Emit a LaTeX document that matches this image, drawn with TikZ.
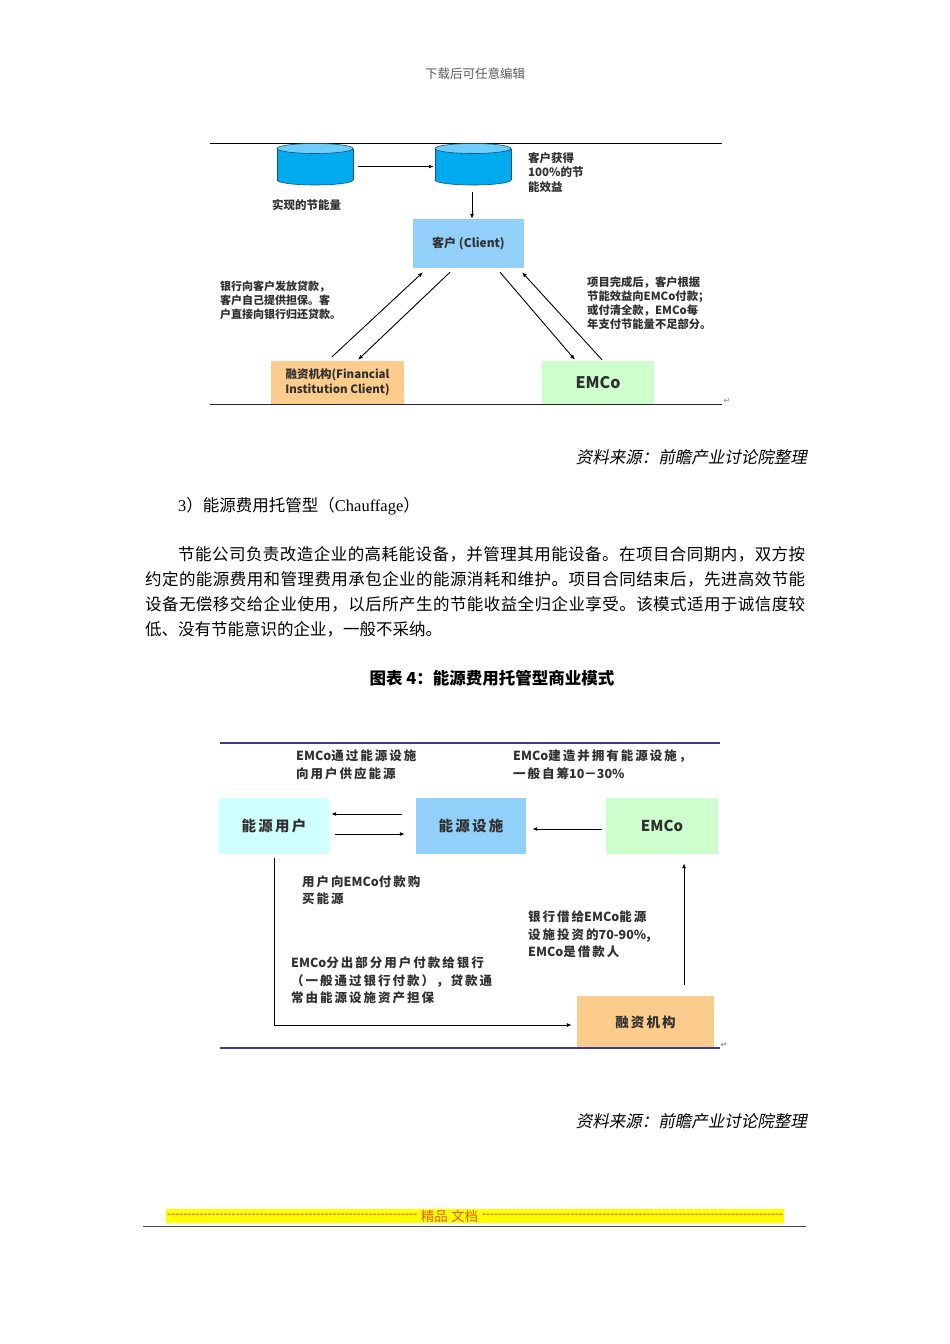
\documentclass[tikz,border=0pt]{standalone}
\usepackage{fontspec}
\setmainfont{Liberation Serif}
\newfontfamily\cjk{Noto Sans CJK SC}
\newfontfamily\cjkw{Noto Sans CJK SC}[LetterSpace=16]
\newfontfamily\cjkit{Noto Sans CJK SC}[FakeSlant=0.2]
\newfontfamily\sym{DejaVu Sans}
\usetikzlibrary{arrows.meta,calc}
\definecolor{cylbody}{RGB}{0,170,238}
\definecolor{cyltop}{RGB}{110,205,250}
\definecolor{cylline}{RGB}{20,80,130}
\definecolor{clientblue}{RGB}{146,208,250}
\definecolor{finorange}{RGB}{252,204,140}
\definecolor{emcogreen}{RGB}{204,255,204}
\definecolor{usercyan}{RGB}{208,255,255}
\definecolor{lineblue}{RGB}{60,60,140}
\definecolor{txtgray}{RGB}{48,48,48}
\definecolor{hdrgray}{RGB}{90,90,90}
\definecolor{dashred}{RGB}{205,70,40}
\definecolor{footorange}{RGB}{225,95,20}
\definecolor{footyellow}{RGB}{255,255,0}
\newcount\cjkcnt
\cjkcnt="4E00
\loop \XeTeXcharclass\cjkcnt=1 \advance\cjkcnt by 1 \ifnum\cjkcnt<"A000 \repeat
\XeTeXcharclass"FF0C=3 \XeTeXcharclass"3002=3 \XeTeXcharclass"3001=3
\XeTeXcharclass"FF1A=3 \XeTeXcharclass"FF1B=3 \XeTeXcharclass"FF09=3
\XeTeXcharclass"FF08=2
\XeTeXinterchartoks 1 1 = {\hskip 0pt plus 1pt}
\XeTeXinterchartoks 1 3 = {\hskip 0pt plus 1pt}
\XeTeXinterchartoks 3 1 = {\hskip 0pt plus 1pt}
\XeTeXinterchartoks 1 2 = {\hskip 0pt plus 1pt}
\XeTeXinterchartoks 2 1 = {\hskip 0pt plus 1pt}
\XeTeXinterchartoks 3 3 = {\hskip 0pt plus 1pt}
\newcommand\jline[2]{\hbox to #1{\XeTeXinterchartokenstate=1 #2}}
\newcommand\fs[2]{\fontsize{#1}{#2}\selectfont}
\newcommand\EM{{\cjk\bfseries EMCo}}
\newcommand\drawcyl[1]{%
  \filldraw[draw=cylline,line width=0.6pt,fill=cylbody] (#1,180) ellipse[x radius=38,y radius=5];
  \fill[cylbody] (#1-38,148.5) rectangle (#1+38,180);
  \draw[cylline,line width=0.6pt] (#1-38,148.5) -- (#1-38,180) (#1+38,148.5) -- (#1+38,180);
  \filldraw[draw=cylline,line width=0.6pt,fill=cyltop] (#1,148.5) ellipse[x radius=38,y radius=5];}
\tikzset{
  arr/.style={line width=0.9pt,-{Latex[length=5pt,width=4pt]}},
  box/.style={inner sep=0,draw=none},
  lbl/.style={anchor=north west,inner sep=0,align=left,text=txtgray},
}
\begin{document}
\begin{tikzpicture}[x=1pt,y=-1pt]
\useasboundingbox (0,0) rectangle (950,1344);
\fill[white] (0,0) rectangle (950,1344);

% header
\node[font=\cjk\fs{12.5}{14},text=hdrgray] (hdr) at (475,74) {下载后可任意编辑};

% ---------- diagram 1 ----------
\draw[line width=1pt] (210,143) -- (722,143);
\drawcyl{315}
\drawcyl{473}
\node[box,minimum width=76pt,minimum height=42pt] (cyl1) at (315,164) {};
\node[box,minimum width=76pt,minimum height=42pt] (cyl2) at (473,164) {};
\draw[arr] ($(cyl1.east)+(5,2.5)$) -- ($(cyl2.west)+(-1,2.5)$);

\node[box,fill=clientblue,minimum width=111pt,minimum height=49pt,font=\cjk\bfseries\fs{12}{14},text=txtgray] (client) at (468.5,243.5) {客户 (Client)};
\draw[arr] ($(cyl2.south)+(-1,7)$) -- ($(client.north)+(3.5,0)$);

\node[box,fill=finorange,minimum width=133pt,minimum height=43pt,align=center,font=\cjk\bfseries\fs{11.5}{15.5},text=txtgray] (fin) at (337.5,382.5) {融资机构(Financial\\Institution Client)};
\node[box,fill=emcogreen,minimum width=112pt,minimum height=43pt,font=\cjk\bfseries\fs{16}{18},text=txtgray] (emco) at (598,382.5) {EMCo};

\draw[arr] ($(fin.north)+(-5.5,-4)$) -- ($(client.south)+(-45.5,4)$);
\draw[arr] ($(client.south)+(-18.5,4)$) -- ($(fin.north)+(20.5,-1)$);
\draw[arr] ($(client.south)+(31.5,4)$) -- ($(emco.north)+(-23,-1)$);
\draw[arr] ($(emco.north)+(4,-1)$) -- ($(client.south)+(53.5,4)$);

\draw[line width=1pt,black!85] (210,404) -- (722,404);
\node[font=\sym\fs{8}{8},text=gray,inner sep=0] (ret1) at (727,401) {↵};

\node[lbl,font=\cjk\bfseries\fs{11.5}{14}] (t1) at (272,199) {实现的节能量};
\node[lbl,font=\cjk\bfseries\fs{11.5}{14.5}] (t2) at (528,152.3) {客户获得\\100\%的节\\能效益};
\node[lbl,font=\cjk\bfseries\fs{11}{14}] (t3) at (220,280.5) {银行向客户发放贷款，\\客户自己提供担保。客\\户直接向银行归还贷款。};
\node[lbl,font=\cjk\bfseries\fs{11.3}{14}] (t4) at (587,276.3) {项目完成后，客户根据\\节能效益向EMCo付款；\\或付清全款，EMCo每\\年支付节能量不足部分。};

% ---------- body text ----------
\node[anchor=east,inner sep=0,font=\cjkit\fs{16.5}{18}] (src1) at (807,457) {资料来源：前瞻产业讨论院整理};
\node[anchor=west,inner sep=0,font=\fs{16.5}{18}] (h3) at (178,506) {3{\cjk ）能源费用托管型（}Chauffage{\cjk ）}};
\node[anchor=west,inner sep=0,font=\cjk\fs{16.5}{18}] (p1) at (178,554) {\jline{627pt}{节能公司负责改造企业的高耗能设备，并管理其用能设备。在项目合同期内，双方按}};
\node[anchor=west,inner sep=0,font=\cjk\fs{16.5}{18}] (p2) at (145,579) {\jline{660pt}{约定的能源费用和管理费用承包企业的能源消耗和维护。项目合同结束后，先进高效节能}};
\node[anchor=west,inner sep=0,font=\cjk\fs{16.5}{18}] (p3) at (145,604) {\jline{660pt}{设备无偿移交给企业使用，以后所产生的节能收益全归企业享受。该模式适用于诚信度较}};
\node[anchor=west,inner sep=0,font=\cjk\fs{16.5}{18}] (p4) at (145,629) {低、没有节能意识的企业，一般不采纳。};
\node[font=\cjk\bfseries\fs{16.5}{18}] (title2) at (492,678) {图表 4：能源费用托管型商业模式};

% ---------- diagram 2 ----------
\draw[lineblue,line width=1.2pt] (220,743) -- (720,743);
\node[lbl,font=\cjkw\bfseries\fs{12.5}{18}] (u1) at (296,749.75) {\EM 通过能源设施\\向用户供应能源};
\node[lbl,font=\cjkw\bfseries\fs{12.5}{18}] (u2) at (513,749.75) {\EM 建造并拥有能源设施，\\一般自筹{\cjk\bfseries 10－30\%}};

\node[box,fill=usercyan,minimum width=110pt,minimum height=56pt,font=\cjkw\bfseries\fs{14.5}{16},text=txtgray] (user) at (274,826) {能源用户};
\node[box,fill=clientblue,minimum width=110pt,minimum height=56pt,font=\cjkw\bfseries\fs{14.5}{16},text=txtgray] (fac) at (471,826) {能源设施};
\node[box,fill=emcogreen,minimum width=112pt,minimum height=56pt,font=\cjk\bfseries\fs{15}{16},text=txtgray] (emco2) at (662,826) {EMCo};
\node[box,fill=finorange,minimum width=137pt,minimum height=52pt,font=\cjkw\bfseries\fs{13.5}{16},text=txtgray] (fin2) at (645.5,1022) {融资机构};

\draw[arr] ($(fac.west)+(-14,-12)$) -- ($(user.east)+(2,-12)$);
\draw[arr] ($(user.east)+(6,8)$) -- ($(fac.west)+(-11,8)$);
\draw[arr] ($(emco2.west)+(-4,3)$) -- ($(fac.east)+(6,3)$);
\draw[arr] ($(user.south)+(0,4)$) |- ($(fin2.west)+(-5,3)$);
\draw[arr] ($(fin2.north)+(38.5,-11)$) -- ($(emco2.south)+(22,9)$);

\node[lbl,font=\cjkw\bfseries\fs{12.5}{17}] (u3) at (302,875.75) {用户向\EM 付款购\\买能源};
\node[lbl,font=\cjkw\bfseries\fs{12.5}{17.5}] (u4) at (528,910.75) {银行借给\EM 能源\\设施投资的{\cjk\bfseries 70-90\%,}\\\EM 是借款人};
\node[lbl,font=\cjkw\bfseries\fs{12.5}{17.5}] (u5) at (291,956.75) {\EM 分出部分用户付款给银行\\（一般通过银行付款），贷款通\\常由能源设施资产担保};

\draw[lineblue,line width=1.2pt] (220,1048) -- (720,1048);
\node[font=\sym\fs{8}{8},text=gray,inner sep=0] (ret2) at (724,1045) {↵};

\node[anchor=east,inner sep=0,font=\cjkit\fs{16.5}{18}] (src2) at (807,1121) {资料来源：前瞻产业讨论院整理};

% ---------- footer ----------
\fill[footyellow] (166,1209) rectangle (784,1223);
\node[anchor=west,inner sep=0,font=\fs{12}{14},text=dashred] (dl) at (167,1216) {\hbox to 250pt{\xleaders\hbox{-}\hfill}};
\node[inner sep=0,font=\cjk\fs{13.5}{14},text=footorange] (foot) at (449.5,1216) {精品 文档};
\node[anchor=west,inner sep=0,font=\fs{12}{14},text=dashred] (dr) at (482,1216) {\hbox to 301pt{\xleaders\hbox{-}\hfill}};
\draw[line width=1.5pt,black!70] (143,1226.5) -- (806,1226.5);
\end{tikzpicture}
\end{document}
